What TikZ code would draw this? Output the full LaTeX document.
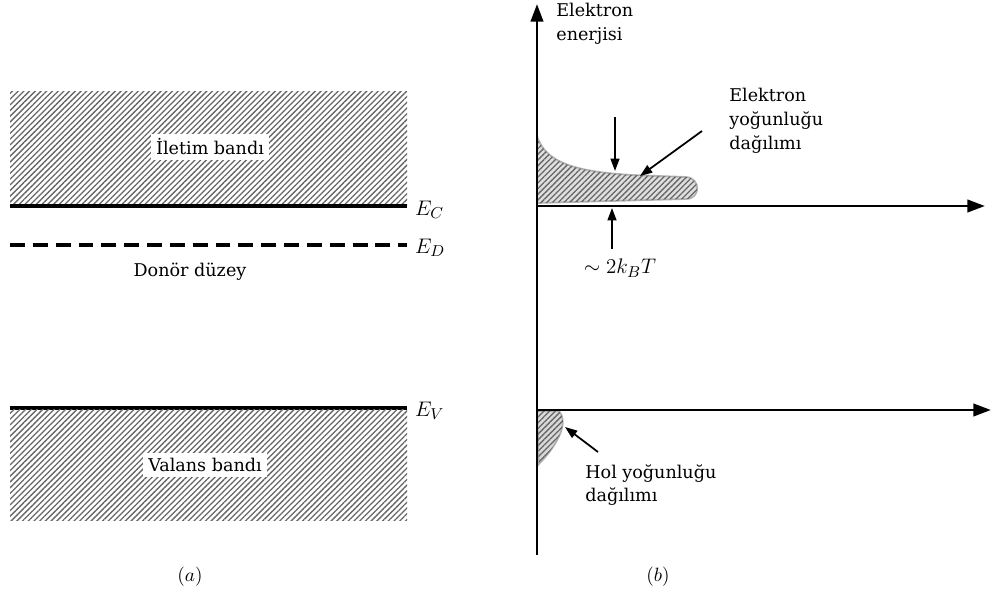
\documentclass[tikz,border=0pt]{standalone}
\usepackage{fontspec}
\setmainfont{DejaVu Serif}
\usetikzlibrary{patterns.meta,arrows.meta}

\tikzset{
  band/.style={pattern={Lines[angle=45,distance=2.3pt,line width=0.75pt]}, pattern color=black!60},
  level/.style={line width=2.4pt},
  donor/.style={line width=1.8pt, dash pattern=on 8.5pt off 4.5pt},
  axis/.style={line width=1.6pt, -{Triangle[length=10pt,width=7pt]}},
  pointer/.style={line width=1pt, -{Triangle[length=7pt,width=5pt]}},
  lbl/.style={font=\fontsize{10}{13.5}\selectfont, align=left, inner sep=0pt},
  elab/.style={font=\fontsize{13}{15}\selectfont, anchor=west, inner sep=1pt},
  tag/.style={font=\fontsize{10}{12}\selectfont, inner sep=1pt}
}

\begin{document}
\begin{tikzpicture}[x=0.02cm, y=-0.02cm]
\useasboundingbox (0,0) rectangle (992,595);

% ---- Panel (a): band diagram ----
\fill[band] (10,91) rectangle (407,205);
\draw[level] (10,206) -- (407,206);
\draw[donor] (10,245) -- (407,245);
\draw[level] (10,408) -- (407,408);
\fill[band] (10,409) rectangle (407,520);

\node[tag, fill=white, inner sep=3pt] (iletim) at (210,147) {İletim bandı};
\node[tag] (donorlbl) at (190,272) {Donör düzey};
\node[tag, fill=white, inner sep=3pt] (valans) at (205,465) {Valans bandı};

\node[elab] (ec) at (413,210) {$E_C$};
\node[elab] (ed) at (413,248) {$E_D$};
\node[elab] (ev) at (413,411) {$E_V$};

\node[tag, font=\fontsize{11}{13}\selectfont] (capa) at (190,577) {$(a)$};

% ---- Panel (b): carrier distributions ----
\coordinate (origin) at (537,555);
\coordinate (ytop) at (537,4);
\coordinate (cb0) at (537,206);
\coordinate (cb1) at (985,206);
\coordinate (vb0) at (537,410);
\coordinate (vb1) at (991,410);

% electron distribution
\filldraw[gray!60, fill=gray!25, line width=1pt]
  (537,136) .. controls (546,166) and (585,172) .. (632,175)
  -- (686,177) .. controls (701,178) and (701,199) .. (686,199)
  -- (537,203) -- cycle;
\fill[band]
  (537,136) .. controls (546,166) and (585,172) .. (632,175)
  -- (686,177) .. controls (701,178) and (701,199) .. (686,199)
  -- (537,203) -- cycle;

% hole distribution
\filldraw[gray!60, fill=gray!30, line width=1pt]
  (537,411) -- (559,411) .. controls (568,421) and (561,441) .. (539,464) -- cycle;
\fill[band] (537,411) -- (559,411) .. controls (568,421) and (561,441) .. (539,464) -- cycle;

\draw[axis] (origin) -- (ytop);
\draw[axis] (cb0) -- (cb1);
\draw[axis] (vb0) -- (vb1);

\node[lbl, anchor=north west] (enerji) at (556,3) {Elektron\\enerjisi};
\node[lbl, anchor=north west] (edist) at (729,88) {Elektron\\yoğunluğu\\dağılımı};
\node[lbl, anchor=north west] (hdist) at (585,464) {Hol yoğunluğu\\dağılımı};
\node[elab, anchor=center] (kbt) at (620,268) {$\sim 2k_BT$};

% pointers
\coordinate (dn0) at (615,117);
\coordinate (dn1) at (615,171);
\coordinate (up0) at (612,249);
\coordinate (up1) at (612,208);
\coordinate (etip) at (640,176);
\coordinate (htip) at (565,427);
\draw[pointer] (dn0) -- (dn1);
\draw[pointer] (up0) -- (up1);
\draw[pointer] (702,131) -- (etip);
\draw[pointer] (598,452) -- (htip);

\node[tag, font=\fontsize{11}{13}\selectfont] (capb) at (658,577) {$(b)$};

\end{tikzpicture}
\end{document}
